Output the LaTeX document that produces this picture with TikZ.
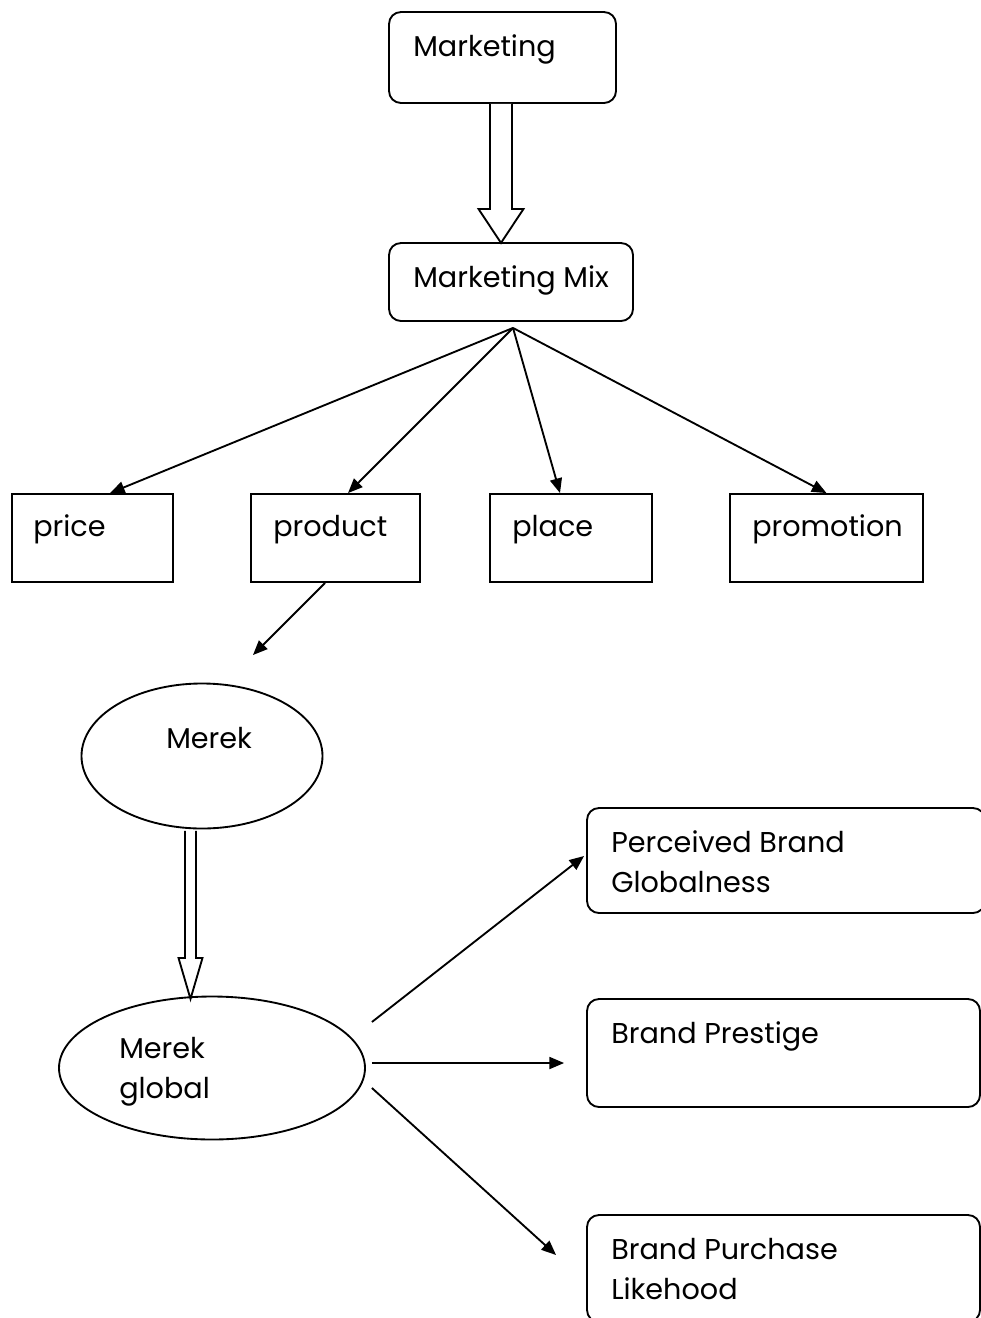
\documentclass[tikz,border=0pt]{standalone}
\usepackage{fontspec}
\setmainfont{Poppins}
\usetikzlibrary{shapes.geometric,arrows.meta,calc}
\begin{document}
\begin{tikzpicture}[x=0.75pt,y=-0.75pt,
  every node/.style={font=\fontsize{21.5}{30}\selectfont},
  rbox/.style={draw,line width=1.4pt,rounded corners=9pt,inner sep=0pt},
  sbox/.style={draw,line width=1.4pt,inner sep=0pt},
  ell/.style={draw,ellipse,line width=1.4pt,inner sep=0pt},
  lbl/.style={anchor=base west,inner sep=0pt,align=left},
  conn/.style={line width=1.4pt,-{Triangle[length=11pt,width=9pt]}},
  blockarrow/.style={draw,line width=1.4pt,fill=white,line join=miter}]
\useasboundingbox (0,0) rectangle (981,1318);
% nodes
\node[rbox,minimum width=170.25pt,minimum height=68.25pt] (mkt) at (502.5,57.5) {};
\node[lbl] at (413,56) {Marketing};
\node[rbox,minimum width=183pt,minimum height=58.5pt] (mix) at (511,282) {};
\node[lbl] at (413,287) {Marketing Mix};
\node[sbox,minimum width=120.75pt,minimum height=66pt] (price) at (92.5,538) {};
\node[lbl] at (33,536) {price};
\node[sbox,minimum width=126.75pt,minimum height=66pt] (product) at (335.5,538) {};
\node[lbl] at (273,536) {product};
\node[sbox,minimum width=121.5pt,minimum height=66pt] (place) at (571,538) {};
\node[lbl] at (512,536) {place};
\node[sbox,minimum width=144.75pt,minimum height=66pt] (promo) at (826.5,538) {};
\node[lbl] at (752,536) {promotion};
\node[ell,minimum width=180.75pt,minimum height=108.75pt] (merek) at (202,756) {};
\node[lbl] at (166,748) {Merek};
\node[ell,minimum width=229.5pt,minimum height=107.25pt] (global) at (212,1068) {};
\node[lbl] at (119,1098) {Merek\\global};
\node[rbox,minimum width=298.5pt,minimum height=78.75pt] (pbg) at (786,860.5) {};
\node[lbl] at (611,892) {Perceived Brand\\Globalness};
\node[rbox,minimum width=294.75pt,minimum height=81pt] (prest) at (783.5,1053) {};
\node[lbl] at (611,1043) {Brand Prestige};
\node[rbox,minimum width=294.75pt,minimum height=80.25pt] (purch) at (783.5,1268.5) {};
\node[lbl] at (611,1299) {Brand Purchase\\Likehood};
% block arrows
\coordinate (b1) at ($(mkt.south)+(-1.5,0)$);
\draw[blockarrow] ($(b1)+(-11,0)$) -- ($(b1)+(-11,105)$) -- ($(b1)+(-22.5,105)$) -- ($(b1)+(0,139)$) -- ($(b1)+(22.5,105)$) -- ($(b1)+(11,105)$) -- ($(b1)+(11,0)$);
\coordinate (b2) at ($(merek.south)+(-11.5,1.5)$);
\draw[blockarrow] ($(b2)+(-5.5,0)$) -- ($(b2)+(-5.5,127)$) -- ($(b2)+(-12,127)$) -- ($(b2)+(0,168)$) -- ($(b2)+(12,127)$) -- ($(b2)+(5.5,127)$) -- ($(b2)+(5.5,0)$);
% connectors
\coordinate (apex) at ($(mix.south)+(2,6)$);
\draw[conn] (apex) -- ($(price.north)+(17.5,0)$);
\draw[conn] (apex) -- ($(product.north)+(12.5,0)$);
\draw[conn] (apex) -- ($(place.north)+(-11,0)$);
\draw[conn] (apex) -- ($(promo.north)+(0,0)$);
\coordinate (pend) at (253,655);
\draw[conn] ($(product.south)+(-10.5,0)$) -- (pend);
\draw[conn] ($(global.east)+(6,-46)$) -- ($(pbg.west)+(-2,-4.5)$);
\draw[conn] ($(global.east)+(6,-5)$) -- ($(prest.west)+(-22,10)$);
\draw[conn] ($(global.east)+(6,20)$) -- ($(purch.west)+(-30,-13.5)$);
\end{tikzpicture}
\end{document}
